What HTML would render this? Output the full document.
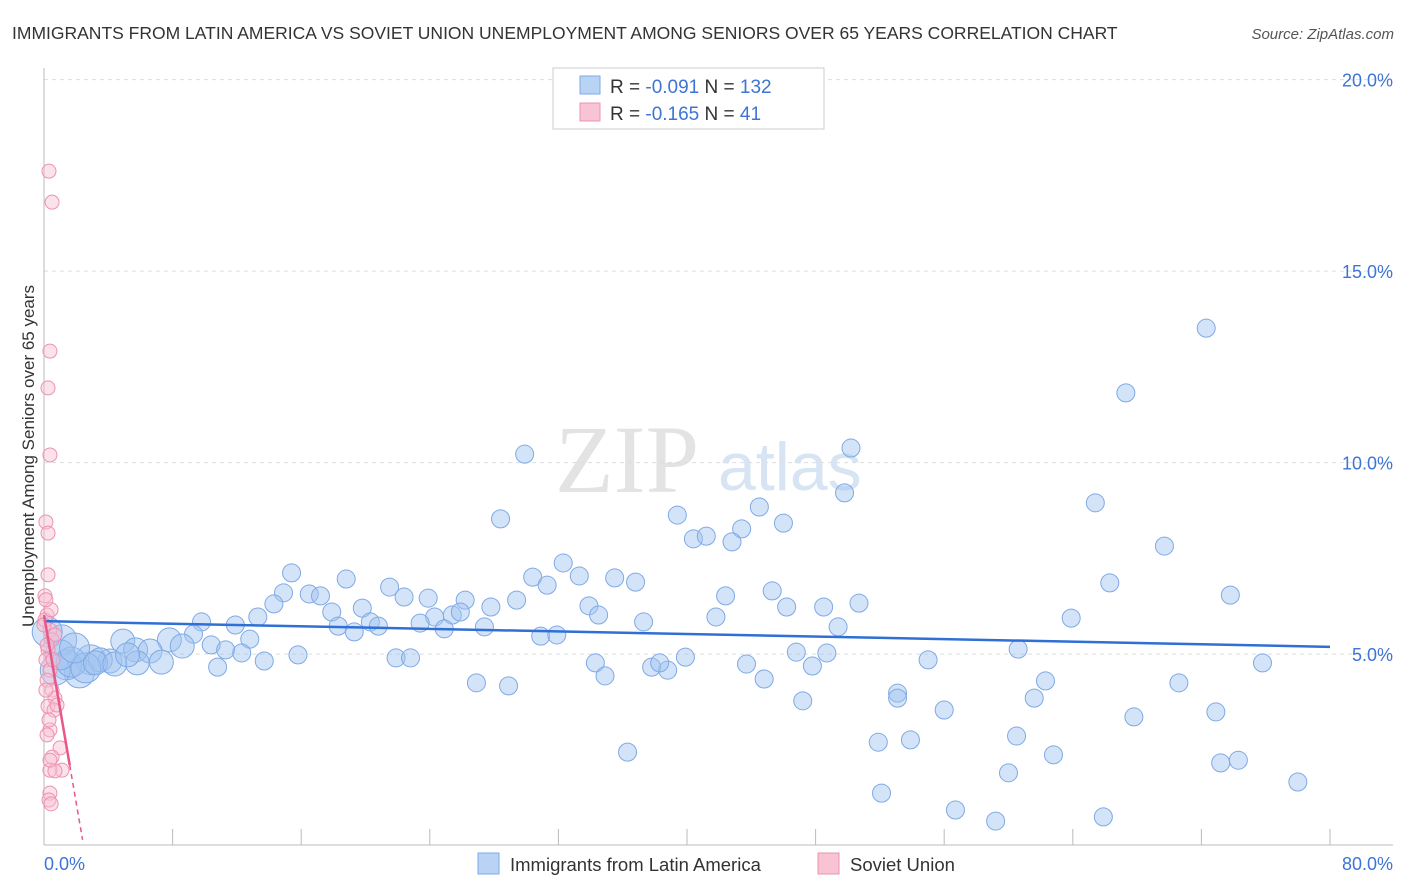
<!DOCTYPE html>
<html><head><meta charset="utf-8"><style>
body{margin:0;background:#fff;font-family:"Liberation Sans",sans-serif;}
svg{display:block}
</style></head><body>
<svg id="chart" width="1406" height="892" viewBox="0 0 1406 892">
<text x="12" y="39" font-size="17.5" fill="#333">IMMIGRANTS FROM LATIN AMERICA VS SOVIET UNION UNEMPLOYMENT AMONG SENIORS OVER 65 YEARS CORRELATION CHART</text>
<text x="1394" y="39" font-size="15" fill="#555" font-style="italic" text-anchor="end">Source: ZipAtlas.com</text>
<g>
<text x="555" y="492" font-family="Liberation Serif,serif" font-size="96" fill="#e3e3e3">ZIP</text>
<text x="718" y="490" font-size="68" fill="#d6e4f4">atlas</text>
</g>
<g id="grid"></g>
<g id="axes"></g>
<g id="marks"></g>
<text transform="translate(34,456) rotate(-90)" text-anchor="middle" font-size="17" fill="#333">Unemployment Among Seniors over 65 years</text>
<g>
<rect x="553" y="68" width="271" height="61" fill="#fff" stroke="#ccc"/>
<rect x="580" y="76" width="20" height="18" fill="#b9d3f5" stroke="#7fa9e6"/>
<rect x="580" y="103" width="20" height="18" fill="#f8c3d3" stroke="#ec93b0"/>
<text x="610" y="93" font-size="19" fill="#333">R = <tspan fill="#3d74d6">-0.091</tspan>   N = <tspan fill="#3d74d6">132</tspan></text>
<text x="610" y="120" font-size="19" fill="#333">R = <tspan fill="#3d74d6">-0.165</tspan>   N = <tspan fill="#3d74d6">  41</tspan></text>
</g>
<g>
<rect x="478" y="853" width="21" height="21" fill="#b9d3f5" stroke="#7fa9e6"/>
<text x="510" y="871" font-size="18.5" fill="#333">Immigrants from Latin America</text>
<rect x="818" y="853" width="21" height="21" fill="#f8c3d3" stroke="#ec93b0"/>
<text x="850" y="871" font-size="18.5" fill="#333">Soviet Union</text>
</g>
</svg>
<script>
const xTicks=[0,8,16,24,32,40,48,56,64,72,80];
const yTicks=[5,10,15,20];
const yTickLabels=["5.0%","10.0%","15.0%","20.0%"];
const xEndLabels=["0.0%","80.0%"];
const blueX=[72.3,67.3,50.2,29.9,49.8,65.4,28.4,39.4,44.5,46.0,43.4,40.4,41.2,42.8,69.7,32.3,15.4,30.4,33.3,18.8,35.5,36.8,66.3,21.5,31.3,14.9,16.5,17.2,22.4,23.9,26.2,29.4,42.4,45.3,73.8,50.7,14.3,9.8,11.9,13.3,17.9,19.8,27.8,33.9,46.2,48.5,41.8,63.9,34.5,24.3,25.4,25.9,20.3,20.8,18.3,23.4,24.9,27.4,37.3,49.4,19.3,30.9,31.9,12.8,9.3,4.9,7.8,5.7,6.6,8.6,10.4,11.3,12.3,15.8,13.7,21.9,22.8,34.3,37.8,38.8,38.3,39.9,46.8,48.7,43.7,60.6,75.8,55.0,47.8,10.8,7.3,5.8,4.1,2.9,2.2,1.4,0.7,1.1,0.2,34.9,26.9,28.9,44.8,62.3,70.6,53.1,53.1,61.6,47.2,56.0,67.8,72.9,51.9,53.9,60.5,36.3,62.8,74.3,73.2,60.0,78.0,52.1,56.7,59.2,65.9,3.5,1.7,2.6,1.0,1.9,3.2,4.4,5.2];
const blueY=[13.51,11.82,10.38,10.22,9.21,8.95,8.53,8.63,8.84,8.42,8.27,8.01,8.08,7.93,7.82,7.38,7.12,7.01,7.04,6.96,6.99,6.88,6.86,6.75,6.80,6.60,6.57,6.52,6.49,6.46,6.41,6.41,6.52,6.65,6.54,6.33,6.31,5.84,5.76,5.97,6.10,6.20,6.23,6.26,6.23,6.23,5.97,5.94,6.02,5.97,6.02,6.10,5.84,5.73,5.73,5.81,5.66,5.71,5.84,5.71,5.58,5.47,5.50,5.39,5.52,5.34,5.37,5.11,5.08,5.21,5.24,5.11,5.03,4.98,4.82,4.90,4.90,4.77,4.66,4.58,4.77,4.92,5.05,5.03,4.74,5.13,4.77,4.85,4.69,4.66,4.79,4.77,4.82,4.85,4.51,4.72,4.58,5.37,5.58,4.43,4.25,4.17,4.35,4.30,4.25,3.98,3.85,3.85,3.78,3.54,3.36,3.49,2.70,2.76,2.86,2.44,2.37,2.23,2.16,1.90,1.66,1.37,0.93,0.64,0.75,4.85,4.79,4.64,4.98,5.16,4.77,4.74,4.98];
const pinkX=[0.31,0.50,0.37,0.25,0.37,0.12,0.25,0.06,0.19,0.37,0.50,0.25,0.12,0.37,0.19,0.50,0.68,0.25,0.62,0.37,0.19,1.0,0.5,1.12,0.37,0.68,0.37,0.31,0.44,0.06,0.68,0.19,0.56,0.12,0.31,0.37,0.81,0,0.25,0.44,0.12];
const pinkY=[17.61,16.80,12.91,11.95,10.20,8.45,8.16,6.52,6.02,5.63,5.37,5.11,4.85,4.58,4.32,4.06,3.85,3.64,3.54,3.02,2.89,2.55,2.31,1.97,1.97,1.95,1.37,1.19,1.09,5.89,5.50,5.24,4.85,4.06,3.28,2.23,3.67,5.76,7.07,6.16,6.42];
const blueTrend=[[0,5.86],[80,5.19]];
const pinkTrendSolid=[[0,6.02],[1.6,2.10]];
const pinkTrendDash=[[1.6,2.10],[2.4,0.15]];

const NS="http://www.w3.org/2000/svg";
const X0=44,X1=1330,YB=845.6,PXY=38.3;
const sx=v=>X0+v/80*(X1-X0);
const sy=v=>YB-v*PXY;
function mk(t,a,p){const e=document.createElementNS(NS,t);for(const k in a)e.setAttribute(k,a[k]);p.appendChild(e);return e;}
const grid=document.getElementById('grid'),axes=document.getElementById('axes'),marks=document.getElementById('marks');
yTicks.forEach((t,i)=>{
 const l=mk('line',{x1:44,x2:1393,y1:sy(t),y2:sy(t),stroke:'#ddd','stroke-dasharray':'4,4'},grid);
 
 
 const tx=mk('text',{x:1393,y:sy(t)+7,'text-anchor':'end','font-size':18,fill:'#3d74d6'},grid);
 tx.textContent=yTickLabels[i];
 
 
});
let a=mk('line',{x1:44,x2:44,y1:68,y2:845,stroke:'#bbb'},axes);


a=mk('line',{x1:44,x2:1393,y1:845,y2:845,stroke:'#bbb'},axes);


xTicks.forEach(t=>{
 const l=mk('line',{x1:sx(t),x2:sx(t),y1:829,y2:845,stroke:'#bbb'},axes);
 
 
});
let t1=mk('text',{x:44,y:870,'font-size':18,fill:'#3d74d6'},axes);t1.textContent=xEndLabels[0];


t1=mk('text',{x:1393,y:870,'font-size':18,fill:'#3d74d6','text-anchor':'end'},axes);t1.textContent=xEndLabels[1];


blueX.forEach((x,i)=>{
 const r=x<3?15:(x<9?12:9);
 const c=mk('circle',{cx:sx(x),cy:sy(blueY[i]),r:r,fill:'rgba(160,195,240,0.45)',stroke:'#7fa9e6','stroke-width':1},marks);
 
 
});
pinkX.forEach((x,i)=>{
 const c=mk('circle',{cx:sx(x),cy:sy(pinkY[i]),r:7,fill:'rgba(248,190,210,0.45)',stroke:'#ec93b0','stroke-width':1},marks);
 
 
});
let tl=mk('line',{x1:sx(blueTrend[0][0]),y1:sy(blueTrend[0][1]),x2:sx(blueTrend[1][0]),y2:sy(blueTrend[1][1]),stroke:'#2f6fd6','stroke-width':2.5},marks);


tl=mk('line',{x1:sx(pinkTrendSolid[0][0]),y1:sy(pinkTrendSolid[0][1]),x2:sx(pinkTrendSolid[1][0]),y2:sy(pinkTrendSolid[1][1]),stroke:'#e8568a','stroke-width':2.5},marks);


tl=mk('line',{x1:sx(pinkTrendDash[0][0]),y1:sy(pinkTrendDash[0][1]),x2:sx(pinkTrendDash[1][0]),y2:sy(pinkTrendDash[1][1]),stroke:'#e8568a','stroke-width':1.5,'stroke-dasharray':'5,4'},marks);


</script>
</body></html>
